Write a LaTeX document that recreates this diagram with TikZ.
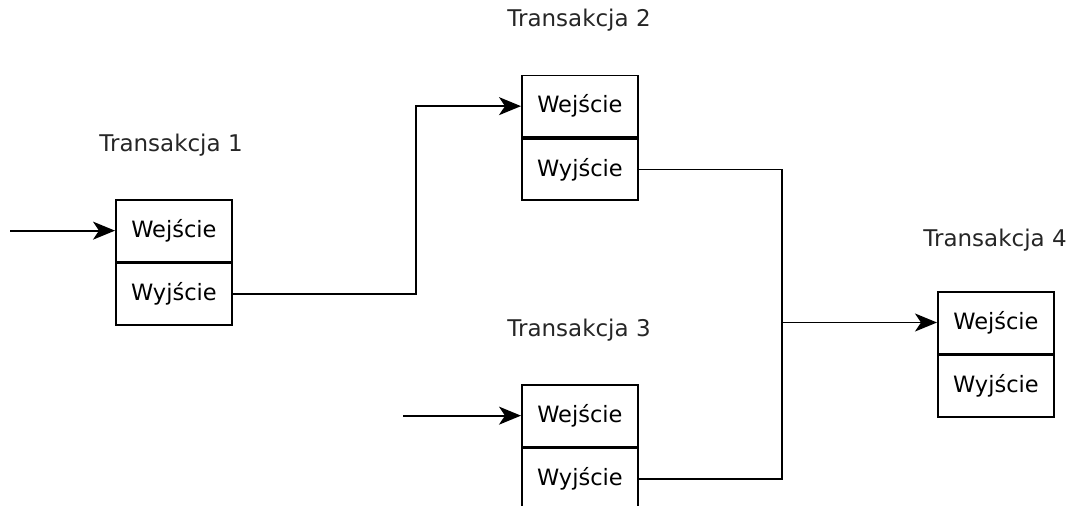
\documentclass[tikz,border=0pt]{standalone}
\usepackage{fontspec}
\setmainfont{DejaVu Sans}
\usetikzlibrary{arrows.meta}
\begin{document}
\begin{tikzpicture}[x=1pt,y=-1pt,
  cell/.style={draw, line width=1.8pt, minimum width=116pt, minimum height=61.5pt, inner sep=0pt, font=\fontsize{22.5}{26}\selectfont},
  title/.style={font=\fontsize{23}{26}\selectfont, text=black!85},
  flow/.style={line width=1.8pt, -{Stealth[length=22pt,width=18pt,inset=6pt]}},
  link/.style={line width=1.8pt}]
\useasboundingbox (0,0) rectangle (1074,506);
\clip (0,0) rectangle (1074,506);

% transaction 1
\node[cell, anchor=north west] (in1) at (115,199) {Wejście};
\node[cell, anchor=north] (out1) at (in1.south) {Wyjście};
\node[title] (t1) at (171,145) {Transakcja 1};

% transaction 2
\node[cell, anchor=north west] (in2) at (521,74.5) {Wejście};
\node[cell, anchor=north] (out2) at (in2.south) {Wyjście};
\node[title] (t2) at (579,20) {Transakcja 2};

% transaction 3
\node[cell, anchor=north west] (in3) at (521,384) {Wejście};
\node[cell, anchor=north] (out3) at (in3.south) {Wyjście};
\node[title] (t3) at (579,330) {Transakcja 3};

% transaction 4
\node[cell, anchor=north west] (in4) at (937,291) {Wejście};
\node[cell, anchor=north] (out4) at (in4.south) {Wyjście};
\node[title] (t4) at (995,240) {Transakcja 4};

% connectors
\coordinate (src1) at (10,229.5);
\coordinate (src3) at (403,415);
\coordinate (bend1) at (416,200);
\coordinate (merge) at (782,322.5);

\draw[flow] (src1 |- in1.west) -- (in1.west);
\draw[flow] (src3 |- in3.west) -- (in3.west);
\draw[flow] (out1.east) -| (bend1) |- (in2.west);
\draw[link] (out2.east) -| (merge);
\draw[link] (out3.east) -| (merge);
\draw[flow] (merge) -- (merge -| in4.west);
\end{tikzpicture}
\end{document}
